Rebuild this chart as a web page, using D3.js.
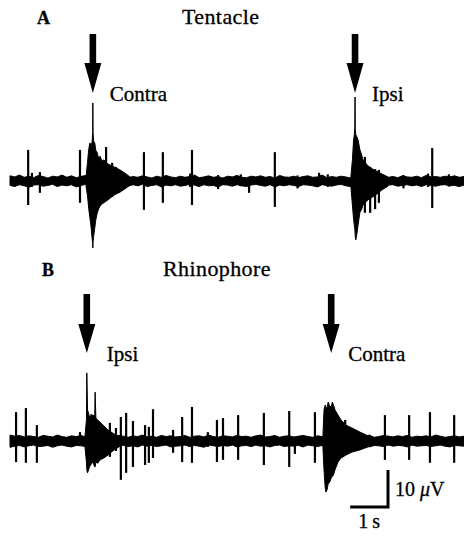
<!DOCTYPE html>
<html>
<head>
<meta charset="utf-8">
<script src="https://cdnjs.cloudflare.com/ajax/libs/d3/7.8.5/d3.min.js"></script>
<style>
body { margin: 0; background: #fff; }
text { stroke: #000; stroke-width: 0.3px; }
</style>
</head>
<body>
<div id="fig"></div>
<script>
// all times in s, amplitudes in µV (up = above baseline, dn = below)
// baseline noise envelope, sampled evenly across the 12 s sweep
var noiseA_up = [1.4,1.1,1.6,1.0,1.3,0.9,1.5,1.2,0.8,1.3,1.1,1.6,
                 1.0,1.4,0.9,1.2,1.5,1.0,1.3,0.8,1.2,1.4,1.0,1.1,
                 1.6,0.9,1.2,1.0,1.4,1.1,0.8,1.3,1.0,1.5,1.1,0.9,
                 1.3,1.0,1.2,1.6,0.9,1.1,1.4,1.0,1.2,0.8,1.3,1.1,
                 1.5,1.0,0.9,1.3,1.1,1.4,1.0,1.2,0.8,1.5,1.1,1.0,
                 1.3,0.9,1.2,1.4,1.0,1.1,1.6,0.9,1.2,1.0,1.3,1.1,
                 0.8,1.4,1.0,1.2,1.5,0.9,1.1,1.3,1.0,1.2,0.9,1.4,
                 1.1,1.0,1.3,0.9,1.5,1.1,1.2,1.0,1.3,1.1,1.4,1.0,
                 1.2];
var noiseA_dn = [1.2,1.5,1.0,1.3,1.7,1.1,1.0,1.4,1.2,0.9,1.5,1.1,
                 1.3,1.0,1.6,1.2,0.9,1.4,1.1,1.5,1.0,1.2,1.7,1.0,
                 1.1,1.4,1.0,1.3,0.9,1.5,1.2,1.0,1.6,1.1,1.3,1.0,
                 1.4,1.2,0.9,1.1,1.5,1.0,1.3,1.2,1.6,1.0,1.1,1.4,
                 1.0,1.3,1.5,1.1,0.9,1.2,1.4,1.0,1.6,1.1,1.3,1.0,
                 1.2,1.5,1.0,1.1,1.3,1.6,1.0,1.2,1.4,1.1,0.9,1.3,
                 1.5,1.0,1.2,1.4,1.1,1.0,1.3,1.6,1.1,1.0,1.4,1.2,
                 1.0,1.3,1.1,1.5,1.0,1.2,1.4,1.1,1.0,1.3,1.2,1.5,
                 1.1];
var noiseB_up = [1.6,1.3,1.5,1.1,1.4,1.2,1.0,1.5,1.3,1.1,1.6,1.2,
                 1.0,1.4,1.2,1.5,1.1,1.3,1.0,1.4,1.6,1.1,1.2,1.5,
                 1.3,1.0,1.4,1.2,1.6,1.1,1.3,1.0,1.5,1.2,1.4,1.1,
                 1.2,1.5,1.0,1.3,1.4,1.1,1.6,1.2,1.0,1.4,1.3,1.1,
                 1.5,1.2,1.3,1.0,1.4,1.6,1.1,1.2,1.5,1.0,1.3,1.4,
                 1.1,1.3,1.5,1.2,1.0,1.4,1.2,1.6,1.1,1.3,1.0,1.5,
                 1.2,1.4,1.1,1.3,1.6,1.0,1.2,1.5,1.3,1.1,1.4,1.2,
                 1.5,1.0,1.3,1.2,1.4,1.1,1.6,1.3,1.0,1.2,1.4,1.1,
                 1.3];
var noiseB_dn = [1.7,1.4,1.2,1.6,1.3,1.1,1.5,1.4,1.2,1.7,1.3,1.1,
                 1.4,1.6,1.2,1.3,1.5,1.1,1.4,1.2,1.7,1.3,1.5,1.1,
                 1.2,1.5,1.3,1.6,1.1,1.4,1.2,1.5,1.3,1.1,1.6,1.4,
                 1.3,1.1,1.5,1.2,1.4,1.7,1.1,1.3,1.5,1.2,1.4,1.1,
                 1.6,1.3,1.2,1.5,1.1,1.4,1.3,1.6,1.2,1.1,1.5,1.3,
                 1.4,1.2,1.6,1.1,1.3,1.5,1.2,1.4,1.7,1.1,1.3,1.2,
                 1.5,1.3,1.1,1.4,1.6,1.2,1.3,1.5,1.1,1.4,1.2,1.3,
                 1.6,1.1,1.4,1.3,1.2,1.5,1.3,1.1,1.4,1.6,1.2,1.3,
                 1.4];

// single units: [t, up, dn]
var spikesA = [
  [0.48, 8.4, 6.5], [0.58, 2.2, 1.6], [0.79, 2.4, 3.2], [1.85, 8.4, 5.9],
  [2.54, 9.2, 5.1], [2.70, 4.9, 4.3], [2.80, 3.8, 3.0], [2.99, 2.2, 1.6],
  [3.54, 7.8, 7.8], [4.04, 7.8, 5.9], [4.76, 2.0, 1.6], [4.81, 8.4, 6.5],
  [5.50, 1.6, 2.2], [6.10, 1.8, 1.4], [6.32, 1.0, 3.2], [7.00, 7.8, 7.0],
  [7.60, 1.5, 2.0], [8.17, 2.2, 1.4], [8.40, 1.8, 1.6], [9.38, 6.5, 8.6],
  [9.52, 3.8, 8.6], [9.65, 3.2, 7.6], [9.75, 3.0, 5.9], [10.40, 1.6, 2.0],
  [11.05, 2.0, 1.6], [11.16, 8.9, 7.3], [11.60, 1.8, 1.5]
];
var spikesB = [
  [0.16, 7.8, 5.7], [0.42, 8.9, 5.9], [0.71, 4.3, 5.9], [1.85, 2.4, 1.1],
  [2.64, 4.9, 4.3], [2.80, 3.5, 2.7], [2.93, 6.5, 10.5], [3.07, 7.6, 8.6],
  [3.25, 5.4, 7.0], [3.57, 4.3, 6.5], [3.67, 3.8, 5.9], [3.78, 8.6, 4.6],
  [4.31, 3.0, 3.2], [4.55, 6.5, 5.7], [4.81, 9.2, 5.9], [5.23, 2.4, 1.6],
  [5.47, 5.7, 5.7], [5.63, 6.2, 5.1], [6.03, 7.0, 5.1], [6.71, 7.6, 6.5],
  [7.38, 8.1, 7.0], [7.53, 1.0, 3.5], [8.06, 7.8, 5.9], [8.86, 5.7, 2.2],
  [9.91, 7.0, 5.1], [10.55, 7.0, 5.1], [11.10, 7.8, 5.9], [11.74, 7.0, 5.9]
];

// evoked bursts, envelope points [t, up, dn]
var burstA1 = [
  [2.01, 1.1, 1.4], [2.05, 5.2, 4.1], [2.08, 8.5, 7.4], [2.11, 10.3, 9.8],
  [2.14, 9.6, 12.1], [2.17, 10.5, 15.4], [2.185, 13.0, 17.0], [2.19, 21.1, 18.1],
  [2.195, 13.0, 16.5], [2.21, 10.8, 15.0],
  [2.24, 10.3, 12.7], [2.27, 8.2, 10.4], [2.30, 7.8, 8.9], [2.34, 6.2, 7.6],
  [2.38, 6.7, 6.8], [2.43, 5.4, 6.2], [2.48, 5.7, 5.9], [2.59, 4.6, 5.1],
  [2.75, 3.8, 3.8], [2.91, 3.0, 3.0], [3.07, 1.9, 1.9], [3.17, 1.1, 1.1]
];
var burstA2 = [
  [9.01, 1.1, 1.4], [9.05, 5.7, 6.5], [9.08, 10.8, 10.1], [9.10, 12.5, 12.0],
  [9.115, 14.5, 13.0], [9.12, 22.7, 13.8], [9.125, 14.0, 15.0], [9.14, 12.5, 15.9],
  [9.17, 11.9, 14.2], [9.20, 11.1, 11.9],
  [9.25, 8.4, 8.4], [9.29, 7.2, 7.8], [9.33, 5.7, 6.5], [9.46, 4.1, 5.1],
  [9.62, 3.0, 4.1], [9.83, 1.9, 2.4], [9.99, 1.1, 1.4]
];
var burstB1 = [
  [1.98, 1.1, 1.4], [2.02, 5.7, 5.7], [2.03, 18.4, 7.8], [2.05, 8.4, 8.6],
  [2.11, 6.2, 6.8], [2.15, 7.3, 6.2], [2.19, 6.8, 5.7], [2.24, 7.0, 7.0],
  [2.25, 13.2, 7.0], [2.27, 6.2, 5.7], [2.32, 5.6, 6.0], [2.38, 5.1, 5.1],
  [2.48, 4.1, 4.6], [2.59, 3.0, 3.8], [2.75, 1.9, 2.4], [2.91, 1.1, 1.4]
];
var burstB2 = [
  [8.27, 1.1, 1.4], [8.30, 8.4, 7.8], [8.33, 9.7, 12.5], [8.35, 9.0, 13.8],
  [8.38, 8.9, 13.2], [8.41, 10.5, 11.6], [8.45, 9.4, 11.1], [8.49, 9.2, 10.0],
  [8.52, 10.5, 9.6], [8.55, 9.8, 9.2], [8.59, 8.4, 7.8], [8.67, 7.0, 5.7],
  [8.75, 5.7, 4.6], [8.88, 4.3, 3.8], [9.04, 3.5, 3.0], [9.25, 2.4, 2.4],
  [9.46, 1.4, 1.6]
];

var stimA = [{t: 2.19, label: "Contra"}, {t: 9.12, label: "Ipsi"}];
var stimB = [{t: 2.03, label: "Ipsi"}, {t: 8.49, label: "Contra"}];

var barTime = 1, barVolt = 10;

var width = 464, height = 537;
var serif = "'Liberation Serif', 'Times New Roman', Tinos, 'DejaVu Serif', serif";

var panels = [
  {letter: "A", title: "Tentacle", base: 181, top: 34, head: 63, tip: 93, labelY: 101,
   lx: 37, tx: 182, ty: 24, labelDx: [17, 17],
   up: noiseA_up, dn: noiseA_dn, spikes: spikesA, bursts: [burstA1, burstA2], stim: stimA},
  {letter: "B", title: "Rhinophore", base: 441, top: 294, head: 324, tip: 353, labelY: 361,
   lx: 42, tx: 163, ty: 276, labelDx: [20, 17],
   up: noiseB_up, dn: noiseB_dn, spikes: spikesB, bursts: [burstB1, burstB2], stim: stimB}
];

var x = d3.scaleLinear().domain([0, 12]).range([10, 464]);
var v = d3.scaleLinear().domain([0, 10]).range([0, 37]); // µV -> px

var svg = d3.select("#fig").append("svg")
    .attr("width", width)
    .attr("height", height)
    .attr("font-family", serif);

panels.forEach(function(p) {
    var g = svg.append("g");

    g.append("text")
        .attr("x", p.lx)
        .attr("y", p.ty)
        .attr("font-family", serif)
        .attr("font-size", 18)
        .attr("font-weight", "bold")
        .text(p.letter);

    g.append("text")
        .attr("x", p.tx)
        .attr("y", p.ty)
        .attr("font-family", serif)
        .attr("font-size", 22)
        .attr("letter-spacing", 0.4)
        .text(p.title);

    // baseline noise band
    var step = 12 / (p.up.length - 1);
    var band = d3.area()
        .x(function(d, i) { return x(i * step); })
        .y0(function(d, i) { return p.base + v(p.dn[i]); })
        .y1(function(d) { return p.base - v(d); });
    g.append("path")
        .datum(p.up)
        .attr("d", band)
        .style("fill", "#000")
        .style("stroke", "#000")
        .style("stroke-width", 1)
        .style("stroke-linejoin", "round");

    // bursts
    var env = d3.area()
        .x(function(d) { return x(d[0]); })
        .y0(function(d) { return p.base + v(d[2]); })
        .y1(function(d) { return p.base - v(d[1]); });
    g.selectAll("path.burst")
        .data(p.bursts)
      .enter().append("path")
        .attr("class", "burst")
        .attr("d", env)
        .style("fill", "#000")
        .style("stroke", "#000")
        .style("stroke-width", 1);

    // spikes
    g.selectAll("line.spike")
        .data(p.spikes)
      .enter().append("line")
        .attr("class", "spike")
        .attr("x1", function(d) { return x(d[0]); })
        .attr("x2", function(d) { return x(d[0]); })
        .attr("y1", function(d) { return p.base - v(d[1]); })
        .attr("y2", function(d) { return p.base + v(d[2]); })
        .style("stroke", "#000")
        .style("stroke-width", 2.2);

    // stimulus arrows
    g.selectAll("path.arrow")
        .data(p.stim)
      .enter().append("path")
        .attr("class", "arrow")
        .attr("d", function(d) {
            var cx = x(d.t);
            return "M" + (cx - 3.3) + "," + p.top + "L" + (cx + 3.3) + "," + p.top +
                   "L" + (cx + 3.3) + "," + p.head + "L" + (cx + 8.5) + "," + p.head +
                   "L" + cx + "," + p.tip + "L" + (cx - 8.5) + "," + p.head +
                   "L" + (cx - 3.3) + "," + p.head + "Z";
        })
        .style("fill", "#000");

    g.selectAll("text.stim")
        .data(p.stim)
      .enter().append("text")
        .attr("class", "stim")
        .attr("x", function(d, i) { return x(d.t) + p.labelDx[i]; })
        .attr("y", p.labelY)
        .attr("font-family", serif)
        .attr("font-size", 21)
        .text(function(d) { return d.label; });
});

// scale bar
var cornerX = 388, cornerY = 507;
var bw = x(barTime) - x(0), bh = v(barVolt);
svg.append("path")
    .attr("d", "M" + (cornerX - bw) + "," + cornerY + "H" + cornerX + "V" + (cornerY - bh))
    .style("fill", "none")
    .style("stroke", "#000")
    .style("stroke-width", 3);

var lab = svg.append("text")
    .attr("x", cornerX + 7)
    .attr("y", 496)
    .attr("font-family", serif)
    .attr("font-size", 20);
lab.append("tspan").text(barVolt + " ");
lab.append("tspan").attr("font-style", "italic").text("\u03bc");
lab.append("tspan").text("V");

svg.append("text")
    .attr("x", cornerX - bw / 2)
    .attr("y", 528)
    .attr("text-anchor", "middle")
    .attr("font-family", serif)
    .attr("font-size", 20)
    .text(barTime + "\u2009s");
</script>
</body>
</html>
